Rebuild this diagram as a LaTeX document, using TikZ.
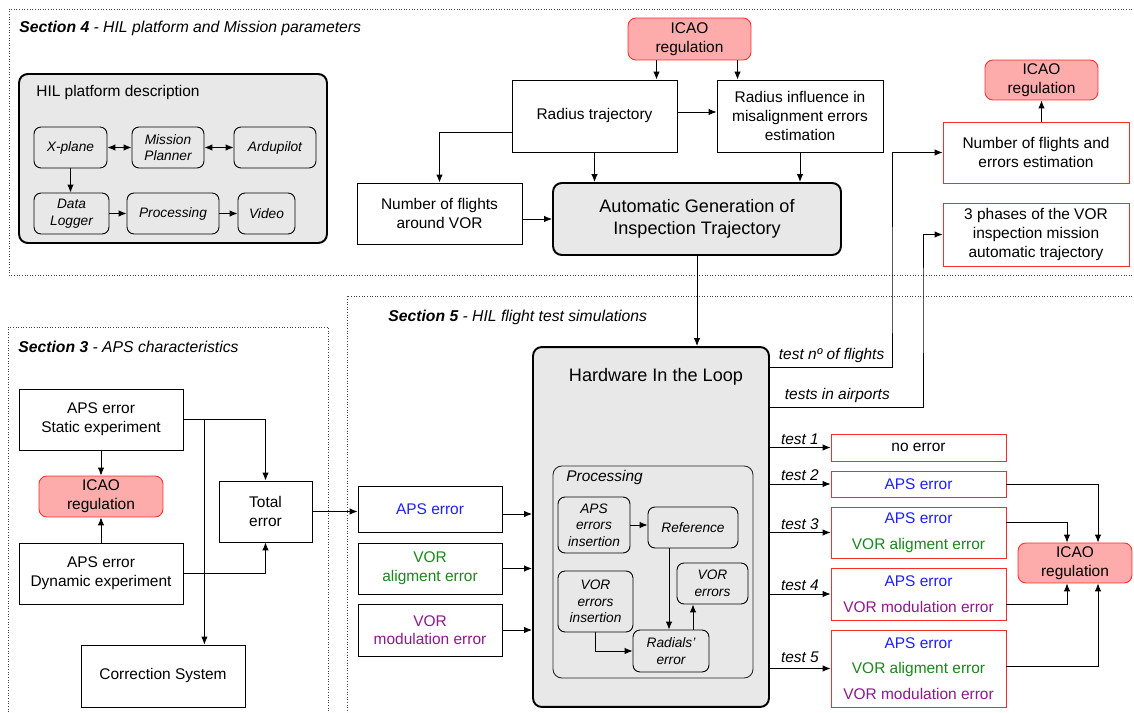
\documentclass[tikz,border=0pt]{standalone}
\usepackage{fontspec}
\setmainfont{Liberation Sans}
\usepackage{tikz}
\usetikzlibrary{positioning}
\usetikzlibrary{calc}
\usetikzlibrary{shapes.geometric, arrows.meta, positioning}

\definecolor{apsblue}{RGB}{30,30,250}
\definecolor{voralign}{RGB}{25,135,25}
\definecolor{vormod}{RGB}{140,25,140}
\definecolor{icaored}{RGB}{250,45,45}

\tikzstyle{box} = [rectangle, draw=black, line width=0.5pt, align=center, inner sep=1pt, font=\fontsize{8.8}{10.6}\selectfont]
\tikzstyle{redbox} = [box, draw=icaored]
\tikzstyle{icao} = [box, rounded corners=4.5pt, draw=icaored, fill=icaored!40]
\tikzstyle{bigbox} = [box, rounded corners=5pt, line width=1.1pt, fill=black!9]
\tikzstyle{subbox} = [box, rounded corners=4pt, font=\fontsize{7.8}{9.4}\selectfont\itshape]
\tikzstyle{arrow} = [line width=0.5pt, ->, >={Latex[length=4.5pt,width=3.6pt]}]
\tikzstyle{twoway} = [arrow, <->]
\tikzstyle{frame} = [densely dotted, line width=0.5pt, draw=black!75]
\tikzstyle{heading} = [anchor=west, inner sep=0pt, font=\fontsize{8.95}{10.8}\selectfont\itshape]
\tikzstyle{testtext} = [inner sep=1.5pt, font=\fontsize{8.8}{10.6}\selectfont\itshape]

\begin{document}
\begin{tikzpicture}[x=0.02cm, y=-0.02cm]
    \useasboundingbox (0,0) rectangle (1134,713);

    % --- Section 4 ---
    \draw[frame] (1140,9) -- (9,9) -- (9,275) -- (1140,275);
    \node[heading] at (19,28) (sec4_title) {\bfseries Section 4\mdseries{} - HIL platform and Mission parameters};

    % HIL platform description
    \node[
        bigbox, minimum width=6.16cm, minimum height=3.38cm
    ] at (173,158.5) (hil_platform) {};
    \node[heading, font=\fontsize{8.8}{10.6}\selectfont] at (36,93) (hil_platform_text) {HIL platform description};

    \node[subbox, minimum width=1.46cm, minimum height=0.82cm] at (70.5,147.5) (xplane) {X-plane};
    \node[subbox, minimum width=1.44cm, minimum height=0.82cm] at (168,147.5) (planner) {Mission\\Planner};
    \node[subbox, minimum width=1.64cm, minimum height=0.82cm] at (275,147.5) (ardupilot) {Ardupilot};
    \node[subbox, minimum width=1.5cm, minimum height=0.82cm] at (71.5,213.5) (logger) {Data\\Logger};
    \node[subbox, minimum width=1.84cm, minimum height=0.82cm] at (173,213.5) (processing_hil) {Processing};
    \node[subbox, minimum width=1.14cm, minimum height=0.82cm] at (266.5,213.5) (video) {Video};

    \draw[twoway] (xplane) -- (planner);
    \draw[twoway] (planner) -- (ardupilot);
    \draw[arrow] (xplane.south) -- (xplane.south |- logger.north);
    \draw[arrow] (logger) -- (processing_hil);
    \draw[arrow] (processing_hil) -- (video);

    % ICAO regulation on the top of the trajectory boxes
    \node[icao, minimum width=2.46cm, minimum height=0.84cm] at (689.5,39) (icao_top) {ICAO\\regulation};

    % radius trajectory and radius influence
    \node[box, minimum width=3.3cm, minimum height=1.44cm] at (594.5,116) (radius_traj) {Radius trajectory};
    \node[box, minimum width=3.32cm, minimum height=1.44cm] at (800,116) (radius_infl) {Radius influence in\\misalignment errors\\estimation};

    % number of flights on the left of automatic generation
    \node[box, minimum width=3.3cm, minimum height=1.22cm] at (439.5,213.5) (nflights) {Number of flights\\around VOR};
    \node[
        bigbox, font=\fontsize{10.3}{12.4}\selectfont, minimum width=5.76cm, minimum height=1.44cm
    ] at (697,219) (autogen) {Automatic Generation of\\Inspection Trajectory};

    \coordinate (icao_a) at ($(icao_top.south)+(-33,0)$);
    \coordinate (icao_b) at ($(icao_top.south)+(48,0)$);
    \draw[arrow] (icao_a) -- (icao_a |- radius_traj.north);
    \draw[arrow] (icao_b) -- (icao_b |- radius_infl.north);
    \draw[arrow] ($(radius_traj.east)+(0,-4)$) -- ($(radius_infl.west)+(0,-4)$);
    \draw[arrow] ($(radius_traj.west)+(0,16)$) -| (nflights.north);
    \draw[arrow] (radius_traj.south) -- (radius_traj.south |- autogen.north);
    \draw[arrow] (nflights.east |- autogen.west) -- (autogen.west);
    \draw[arrow] (radius_infl.south) -- (radius_infl.south |- autogen.north);

    % results on the right
    \node[icao, minimum width=2.26cm, minimum height=0.8cm] at (1041.5,80) (icao_right) {ICAO\\regulation};
    \node[redbox, minimum width=3.72cm, minimum height=1.22cm] at (1036,152.5) (nfe) {Number of flights and\\errors estimation};
    \node[redbox, minimum width=3.72cm, minimum height=1.26cm] at (1036,234.5) (phases) {3 phases of the VOR\\inspection mission\\automatic trajectory};
    \draw[arrow] (icao_right.south |- nfe.north) -- (icao_right.south);

    % --- Section 3 ---
    \draw[frame] (8,720) -- (8,327) -- (328,327) -- (328,720);
    \node[heading] at (18,347) (sec3_title) {\bfseries Section 3\mdseries{} - APS characteristics};

    \node[box, minimum width=3.28cm, minimum height=1.22cm] at (101,419.5) (static) {APS error\\Static experiment};
    \node[icao, minimum width=2.48cm, minimum height=0.82cm] at (101,496.5) (icao_aps) {ICAO\\regulation};
    \node[box, minimum width=3.28cm, minimum height=1.22cm] at (101,573.5) (dynamic) {APS error\\Dynamic experiment};
    \node[box, minimum width=1.86cm, minimum height=1.22cm] at (265.5,511.5) (total) {Total\\error};
    \node[box, minimum width=3.28cm, minimum height=1.24cm] at (163,676) (correction) {Correction System};

    \draw[arrow] (static) -- (icao_aps);
    \draw[arrow] (dynamic) -- (icao_aps);
    \draw[arrow] (static.east) -| (total.north);
    \draw[arrow] (dynamic.east) -| (total.south);
    \coordinate (branch) at ($(static.east)+(21,0)$);
    \draw[arrow] (branch) -- (branch |- correction.north);

    % --- Section 5 ---
    \draw[frame] (1140,296) -- (347,296) -- (347,720);
    \node[heading] at (388,317) (sec5_title) {\bfseries Section 5\mdseries{} - HIL flight test simulations};

    % error inputs on the left of HIL
    \node[box, text=apsblue, minimum width=2.88cm, minimum height=0.92cm] at (430,509) (aps_in) {APS error};
    \node[box, text=voralign, minimum width=2.88cm, minimum height=1.02cm] at (430,568.5) (align_in) {VOR\\aligment error};
    \node[box, text=vormod, minimum width=2.88cm, minimum height=1.04cm] at (430,630) (mod_in) {VOR\\modulation error};

    \draw[arrow] (total.east) -- (total.east -| aps_in.west);

    % Hardware In the Loop
    \node[bigbox, minimum width=4.72cm, minimum height=7.2cm] at (651,527) (hil) {};
    \node[font=\fontsize{10.3}{12.4}\selectfont] at ($(hil.north)+(5,31)$) (hil_text) {Hardware In the Loop};

    \draw[arrow] (autogen.south) -- (autogen.south |- hil.north);
    \draw[arrow] ($(aps_in.east)+(0,5)$) coordinate (aps_out) -- (aps_out -| hil.west);
    \draw[arrow] (align_in.east) -- (align_in.east -| hil.west);
    \draw[arrow] (mod_in.east) -- (mod_in.east -| hil.west);

    % processing inside HIL
    \node[box, draw=black!85, rounded corners=5pt, minimum width=4cm, minimum height=4.24cm] at (653,572) (processing) {};
    \node[heading, font=\fontsize{8.8}{10.6}\selectfont\itshape] at (566,478) (processing_text) {Processing};

    \node[subbox, minimum width=1.44cm, minimum height=1.12cm] at (594,525) (aps_ins) {APS\\errors\\insertion};
    \node[subbox, minimum width=1.8cm, minimum height=0.82cm] at (693,527.5) (reference) {Reference};
    \node[subbox, minimum width=1.42cm, minimum height=0.82cm] at (712.5,583.5) (vor_err) {VOR\\errors};
    \node[subbox, minimum width=1.5cm, minimum height=1.22cm] at (595.5,601.5) (vor_ins) {VOR\\errors\\insertion};
    \node[subbox, minimum width=1.52cm, minimum height=0.84cm] at (671,651) (radials) {Radials'\\error};

    \draw[arrow] (aps_ins.east) -- (aps_ins.east -| reference.west);
    \coordinate (ref_down) at ($(reference.south)+(-24,0)$);
    \draw[arrow] (ref_down) -- (ref_down |- radials.north);
    \draw[arrow] (vor_ins.south) |- (radials.west);
    \coordinate (rad_up) at ($(radials.north)+(22,0)$);
    \draw[arrow] (rad_up) -- (rad_up |- vor_err.south);

    % outputs of HIL to the results of section 4
    \coordinate (out_flights) at ($(hil.north east)+(0,21)$);
    \coordinate (turn_flights) at (892,300);
    \draw[arrow] (out_flights) -| (turn_flights) |- (nfe.west);
    \node[testtext, anchor=south west] at ($(out_flights)+(6,-1)$) (flights_text) {test nº of flights};

    \coordinate (out_airports) at ($(hil.north east)+(0,61)$);
    \coordinate (turn_airports) at (923,300);
    \draw[arrow] (out_airports) -| (turn_airports) |- (phases.west);
    \node[testtext, anchor=south west] at ($(out_airports)+(12,-1)$) (airports_text) {tests in airports};

    % test boxes on the right of HIL
    \node[redbox, minimum width=3.5cm, minimum height=0.54cm] at (918.5,447.5) (test_a) {no error};
    \node[redbox, text=apsblue, minimum width=3.5cm, minimum height=0.52cm] at (918.5,484) (test_b) {APS error};
    \node[
        redbox, font=\fontsize{8.8}{14.5}\selectfont, minimum width=3.5cm, minimum height=1.02cm
    ] at (918.5,532.5) (test_c) {\textcolor{apsblue}{APS error}\\\textcolor{voralign}{VOR aligment error}};
    \node[
        redbox, font=\fontsize{8.8}{14.5}\selectfont, minimum width=3.5cm, minimum height=1.04cm
    ] at (918.5,594) (test_d) {\textcolor{apsblue}{APS error}\\\textcolor{vormod}{VOR modulation error}};
    \node[
        redbox, font=\fontsize{8.8}{14.5}\selectfont, minimum width=3.5cm, minimum height=1.54cm
    ] at (918.5,668.5) (test_e) {\textcolor{apsblue}{APS error}\\\textcolor{voralign}{VOR aligment error}\\\textcolor{vormod}{VOR modulation error}};

    \draw[arrow] (hil.east |- test_a.west) -- node[testtext, pos=0, above right, xshift=0.16cm] {test 1} (test_a.west);
    \draw[arrow] (hil.east |- test_b.west) -- node[testtext, pos=0, above right, xshift=0.16cm] {test 2} (test_b.west);
    \draw[arrow] (hil.east |- test_c.west) -- node[testtext, pos=0, above right, xshift=0.16cm] {test 3} (test_c.west);
    \draw[arrow] (hil.east |- test_d.west) -- node[testtext, pos=0, above right, xshift=0.16cm] {test 4} (test_d.west);
    \draw[arrow] (hil.east |- test_e.west) -- node[testtext, pos=0, above right, xshift=0.16cm, yshift=0.05cm] {test 5} (test_e.west);

    % ICAO regulation checking the tests
    \node[icao, minimum width=2.28cm, minimum height=0.8cm] at (1075,563) (icao_tests) {ICAO\\regulation};
    \coordinate (icao_in_a) at ($(icao_tests.north)+(-8,0)$);
    \coordinate (icao_in_b) at ($(icao_tests.north)+(23,0)$);
    \coordinate (icao_out_a) at ($(icao_tests.south)+(-8,0)$);
    \coordinate (icao_out_b) at ($(icao_tests.south)+(23,0)$);
    \draw[arrow] (test_b.east) -| (icao_in_b);
    \draw[arrow] ($(test_c.east)+(0,-10)$) -| (icao_in_a);
    \draw[arrow] ($(test_d.east)+(0,10)$) -| (icao_out_a);
    \draw[arrow] ($(test_e.east)+(0,-2)$) -| (icao_out_b);

\end{tikzpicture}
\end{document}
